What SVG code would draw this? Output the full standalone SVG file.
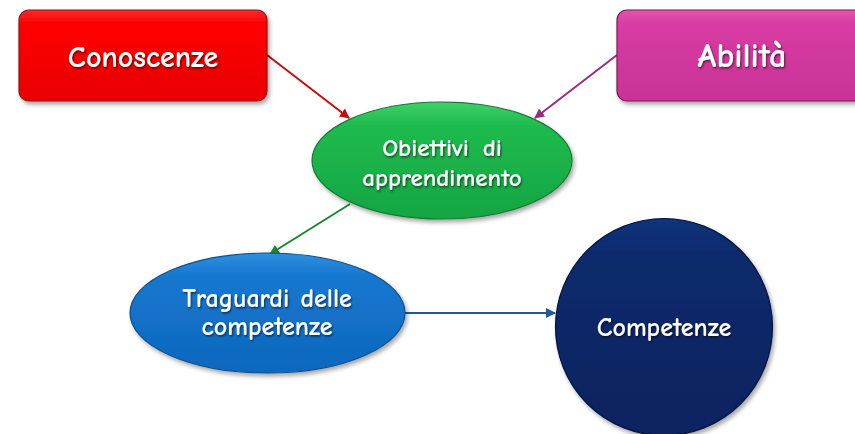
<svg xmlns="http://www.w3.org/2000/svg" width="855" height="434" viewBox="0 0 855 434">
<defs>
<style>
.lbl{font-family:"Comic Neue","DejaVu Sans","Liberation Sans",sans-serif;font-weight:bold;fill:#fff;text-anchor:middle;filter:url(#ts)}
.edge{fill:none;stroke-width:2}
</style>
<filter id="ts" x="-10%" y="-30%" width="120%" height="160%"><feDropShadow dx="1" dy="1.5" stdDeviation="1" flood-color="#000" flood-opacity="0.6"/></filter>
<filter id="sh" x="-10%" y="-10%" width="125%" height="130%"><feDropShadow dx="2" dy="3" stdDeviation="2" flood-color="#000" flood-opacity="0.35"/></filter>
<linearGradient id="gr" x1="0" y1="0" x2="0" y2="1"><stop offset="0" stop-color="#ff2a2a"/><stop offset="0.15" stop-color="#ff0000"/><stop offset="1" stop-color="#e80000"/></linearGradient>
<linearGradient id="gp" x1="0" y1="0" x2="0" y2="1"><stop offset="0" stop-color="#e555b0"/><stop offset="0.15" stop-color="#d83ca2"/><stop offset="1" stop-color="#c93296"/></linearGradient>
<linearGradient id="gg" x1="0" y1="0" x2="0" y2="1"><stop offset="0" stop-color="#3fd06a"/><stop offset="0.2" stop-color="#1fbb4e"/><stop offset="1" stop-color="#14a543"/></linearGradient>
<linearGradient id="gb" x1="0" y1="0" x2="0" y2="1"><stop offset="0" stop-color="#2f8fe0"/><stop offset="0.2" stop-color="#1577cf"/><stop offset="1" stop-color="#0e68bd"/></linearGradient>
<linearGradient id="gn" x1="0" y1="0" x2="0" y2="1"><stop offset="0" stop-color="#12327a"/><stop offset="0.2" stop-color="#0a2a6b"/><stop offset="1" stop-color="#072360"/></linearGradient>
<marker id="ar" viewBox="0 0 10 10" refX="9" refY="5" markerWidth="5" markerHeight="5" orient="auto-start-reverse"><path d="M0,0 L10,5 L0,10 z" fill="#c01010"/></marker>
<marker id="ap" viewBox="0 0 10 10" refX="9" refY="5" markerWidth="5" markerHeight="5" orient="auto-start-reverse"><path d="M0,0 L10,5 L0,10 z" fill="#9a2a85"/></marker>
<marker id="ag" viewBox="0 0 10 10" refX="9" refY="5" markerWidth="5" markerHeight="5" orient="auto-start-reverse"><path d="M0,0 L10,5 L0,10 z" fill="#17892c"/></marker>
<marker id="ab" viewBox="0 0 10 10" refX="9" refY="5" markerWidth="5" markerHeight="5" orient="auto-start-reverse"><path d="M0,0 L10,5 L0,10 z" fill="#1c5a98"/></marker>
</defs>
<rect width="855" height="434" fill="#fff"/>
<g id="connectors">
<line class="edge" x1="267" y1="55" x2="349" y2="118" stroke="#c01010" marker-end="url(#ar)"/>
<line class="edge" x1="617" y1="55" x2="535" y2="118" stroke="#9a2a85" marker-end="url(#ap)"/>
<line class="edge" x1="350" y1="204" x2="270" y2="254" stroke="#17892c" marker-end="url(#ag)"/>
<line class="edge" x1="405" y1="313" x2="555" y2="313" stroke="#1c5a98" marker-end="url(#ab)"/>
</g>
<g id="conoscenze">
<rect x="19" y="10" width="248" height="91" rx="10" fill="url(#gr)" stroke="#8a1a1a" stroke-width="1.2" filter="url(#sh)"/>
<text class="lbl" x="143" y="67" font-size="30">Conoscenze</text>
</g>
<g id="abilita">
<rect x="617" y="10" width="250" height="91" rx="10" fill="url(#gp)" stroke="#7a1a5a" stroke-width="1.2" filter="url(#sh)"/>
<text class="lbl" x="742" y="67" font-size="34">Abilità</text>
</g>
<g id="obiettivi">
<ellipse cx="442" cy="160.5" rx="130" ry="58.5" fill="url(#gg)" stroke="#137a33" stroke-width="1.2" filter="url(#sh)"/>
<text class="lbl" x="442" y="156" font-size="25" word-spacing="5">Obiettivi di</text>
<text class="lbl" x="442" y="186" font-size="25">apprendimento</text>
</g>
<g id="traguardi">
<ellipse cx="267.5" cy="313" rx="137.5" ry="60" fill="url(#gb)" stroke="#0b4f8f" stroke-width="1.2" filter="url(#sh)"/>
<text class="lbl" x="267" y="307" font-size="26" word-spacing="2">Traguardi delle</text>
<text class="lbl" x="267" y="335" font-size="26">competenze</text>
</g>
<g id="competenze">
<circle cx="664" cy="327" r="108.5" fill="url(#gn)" stroke="#051640" stroke-width="1.2" filter="url(#sh)"/>
<text class="lbl" x="664" y="336" font-size="26">Competenze</text>
</g>
</svg>
